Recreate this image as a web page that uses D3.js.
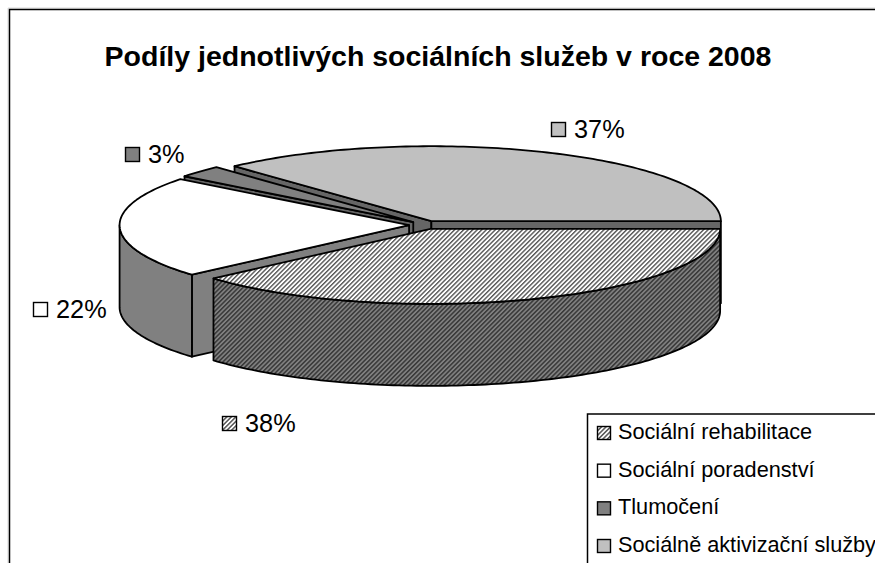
<!DOCTYPE html>
<html><head><meta charset="utf-8">
<script src="https://cdn.jsdelivr.net/npm/d3@7"></script>
<style>html,body{margin:0;padding:0;background:#fff;overflow:hidden}svg{display:block}</style>
</head><body>
<svg id="c" width="875" height="563"></svg>
<script>
const categories = ["Sociální rehabilitace","Sociální poradenství","Tlumočení","Sociálně aktivizační služby"];
const values = [38.5, 22, 2.6, 36.9];
const valueLabels = ["38%","22%","3%","37%"];
const title = "Podíly jednotlivých sociálních služeb v roce 2008";

const font = "'Liberation Sans', Arial, sans-serif";
const svg = d3.select("#c");
const defs = svg.append("defs");
function hatch(id, bg, fg, w){
  const p = defs.append("pattern").attr("id",id).attr("patternUnits","userSpaceOnUse")
    .attr("width",3.2).attr("height",3.2).attr("patternTransform","rotate(45)");
  p.append("rect").attr("width",3.2).attr("height",3.2).attr("fill",bg);
  p.append("rect").attr("width",w).attr("height",3.2).attr("fill",fg);
}
hatch("hTop","#ffffff","#555555",1.4);
hatch("hWall","#808080","#383838",1.5);
hatch("hKey","#ffffff","#555555",1.5);

const topFill = ["url(#hTop)","#ffffff","#808080","#c0c0c0"];
const wallFill = ["url(#hWall)","#808080","#666666","#666666"];
const keyFill = ["url(#hKey)","#ffffff","#808080","#c0c0c0"];

// frame: only the top and left edges are inside the crop
svg.append("path").attr("d","M8,563V8H875").attr("fill","none").attr("stroke","#d8d8d8");
svg.append("path").attr("d","M9.5,563V9.5H875").attr("fill","none").attr("stroke","#000").attr("stroke-width",1.5);

svg.append("text").attr("x",438).attr("y",66).attr("text-anchor","middle")
  .attr("font-family",font).attr("font-weight","bold").attr("font-size",28.5).text(title);

// pie geometry
const cx=425, cy=225, rx=289.5, ry=75, depth=82, explode=0.055;
const arcs = d3.pie().sort(null).value(d=>d).startAngle(0).endAngle(2*Math.PI)(values);
const pt=(c,t,dy=0)=>[c.x+rx*Math.cos(t), c.y+ry*Math.sin(t)+dy];
const ctr=a=>{const m=(a.startAngle+a.endAngle)/2;return {x:cx+explode*rx*Math.cos(m),y:cy+explode*ry*Math.sin(m)}};
function rim(p,c,t0,t1,dy,move){
  const n=Math.max(2,Math.ceil(Math.abs(t1-t0)/0.02));
  d3.range(n+1).forEach(i=>{const q=pt(c,t0+(t1-t0)*i/n,dy);(i===0&&move)?p.moveTo(q[0],q[1]):p.lineTo(q[0],q[1]);});
}
function topPath(a,c){const p=d3.path();p.moveTo(c.x,c.y);rim(p,c,a.startAngle,a.endAngle,0,false);p.closePath();return p.toString();}
function cutPath(c,t){const q=pt(c,t);const p=d3.path();p.moveTo(c.x,c.y);p.lineTo(q[0],q[1]);p.lineTo(q[0],q[1]+depth);p.lineTo(c.x,c.y+depth);p.closePath();return p.toString();}
function wallPath(a,c){
  const t0=Math.max(a.startAngle,0),t1=Math.min(a.endAngle,Math.PI);
  if(t1<=t0) return null;
  const p=d3.path();rim(p,c,t0,t1,0,true);rim(p,c,t1,t0,depth,false);p.closePath();return p.toString();
}
const g=svg.append("g").attr("stroke","#000").attr("stroke-width",1.8).attr("stroke-linejoin","round");
function drawSlice(i){
  const a=arcs[i],c=ctr(a);
  // a cut face shows only when it turns towards the viewer
  if(Math.cos(a.startAngle)<0) g.append("path").attr("d",cutPath(c,a.startAngle)).attr("fill",wallFill[i]);
  if(Math.cos(a.endAngle)>0) g.append("path").attr("d",cutPath(c,a.endAngle)).attr("fill",wallFill[i]);
  const w=wallPath(a,c); if(w) g.append("path").attr("d",w).attr("fill",wallFill[i]);
  g.append("path").attr("d",topPath(a,c)).attr("fill",topFill[i]);
}
[3,2,1,0].forEach(drawSlice);

// value labels
const labelX=[222,33,125,551], labelY=[423,309,154,129];
const lg=svg.append("g").attr("font-family",font).attr("font-size",25.3);
valueLabels.forEach((t,i)=>{
  lg.append("rect").attr("x",labelX[i]+.5).attr("y",labelY[i]-6.5).attr("width",14).attr("height",14)
    .attr("fill",keyFill[i]).attr("stroke","#000").attr("stroke-width",1.4);
  lg.append("text").attr("x",labelX[i]+23).attr("y",labelY[i]+9).text(t);
});

// legend
const leg=svg.append("g").attr("font-family",font).attr("font-size",21.7);
leg.append("rect").attr("x",587.5).attr("y",414).attr("width",300).attr("height",170).attr("fill","#fff").attr("stroke","#000").attr("stroke-width",1.5);
const rowY=d3.scalePoint().domain(categories).range([432,545]);
categories.forEach((t,i)=>{
  const y=rowY(t);
  leg.append("rect").attr("x",597.5).attr("y",y-5.5).attr("width",13).attr("height",13)
    .attr("fill",keyFill[i]).attr("stroke","#000").attr("stroke-width",1.4);
  leg.append("text").attr("x",618).attr("y",y+7).text(t);
});
</script>
</body></html>
